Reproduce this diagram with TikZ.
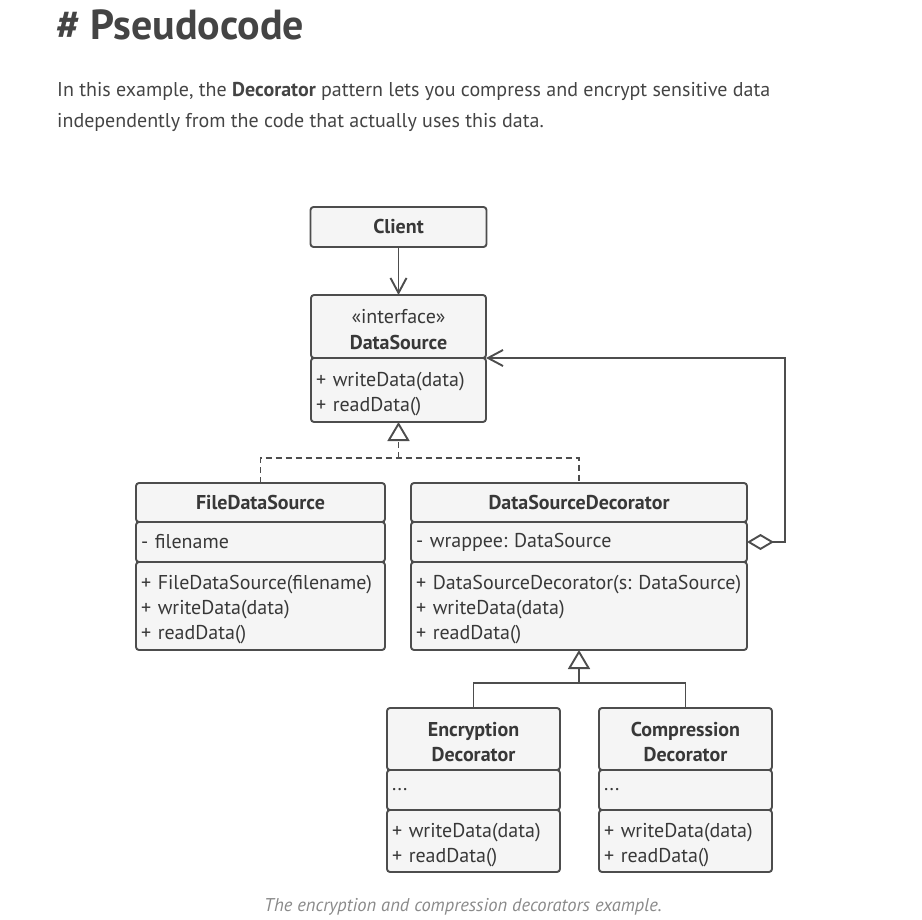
\documentclass[tikz,border=0pt]{standalone}
\usepackage{fontspec}
\setmainfont{PT Sans}
\frenchspacing
\usetikzlibrary{arrows.meta,positioning}
\definecolor{umlline}{HTML}{4D4D4D}
\definecolor{umlfill}{HTML}{F5F5F5}
\definecolor{umltext}{HTML}{383838}
\definecolor{pagetext}{HTML}{444444}
\definecolor{captiontext}{HTML}{8A8A8A}
\begin{document}
\begin{tikzpicture}[x=1pt, y=-1pt,
    part/.style={draw=umlline, fill=umlfill, line width=1.9pt, rounded corners=3pt,
      outer sep=0pt, inner xsep=5pt, inner ysep=2pt, text=umltext,
      font=\fontsize{20}{25}\selectfont},
    classname/.style={part, font=\fontsize{20}{25.5}\selectfont\bfseries, align=center},
    members/.style={part, align=left, text width=#1},
    stacked/.style={text height=#1},
    link/.style={draw=umlline, line width=1.9pt, line join=miter},
    prose/.style={anchor=base west, inner sep=0pt, text=pagetext,
      font=\fontsize{20}{30}\selectfont}]
  \tikzstyle{assoc} = [link, -{Straight Barb[length=15pt,width=16pt]}]
  \tikzstyle{realize} = [link, dash pattern=on 6pt off 4pt]
  \tikzstyle{inherit} = [link, -{Triangle[open,length=19pt,width=22pt]}]
  \tikzstyle{aggregate} = [link, {Diamond[open,length=27pt,width=16pt]}-{Straight Barb[length=15pt,width=16pt]}]
  \useasboundingbox (0,0) rectangle (922,920);

  \node (heading) [prose, font=\fontsize{42}{46}\selectfont\bfseries] at (56,40) {\# Pseudocode};
  \node (introA) [prose] at (57,97) {In this example, the \textbf{Decorator} pattern lets you compress and encrypt sensitive data};
  \node (introB) [prose] at (57,128) {independently from the code that actually uses this data.};

  \node (dsTitle) [classname, stacked=45.5pt, minimum width=175pt, minimum height=63pt] at (398.5,326.5) {\mdseries«interface»\\DataSource};
  \node (dsOps) [members=165pt, stacked=22pt, minimum height=64pt, below=0pt of dsTitle] {+ writeData(data)\\+ readData()};
  \node (client) [classname, minimum width=176pt, minimum height=40pt, above=48pt of dsTitle] {Client};

  \node (fdsTitle) [classname, minimum width=249pt, minimum height=39pt] at (260.5,502.5) {FileDataSource};
  \node (fdsAttr) [members=239pt, minimum height=40pt, below=0pt of fdsTitle] {- filename};
  \node (fdsOps) [members=239pt, stacked=22pt, minimum height=88pt, below=0pt of fdsAttr] {+ FileDataSource(filename)\\+ writeData(data)\\+ readData()};

  \node (dsdTitle) [classname, minimum width=336pt, minimum height=39pt, right=26pt of fdsTitle] {DataSourceDecorator};
  \node (dsdAttr) [members=326pt, minimum height=40pt, below=0pt of dsdTitle] {- wrappee: DataSource};
  \node (dsdOps) [members=326pt, stacked=22pt, minimum height=88pt, below=0pt of dsdAttr] {+ DataSourceDecorator(s: DataSource)\\+ writeData(data)\\+ readData()};

  \node (encTitle) [classname, stacked=45.5pt, minimum width=173pt, minimum height=62pt] at (473.5,739) {Encryption\\Decorator};
  \node (encAttr) [members=163pt, minimum height=40pt, below=0pt of encTitle] {...};
  \node (encOps) [members=163pt, stacked=22pt, minimum height=62pt, below=0pt of encAttr] {+ writeData(data)\\+ readData()};

  \node (compTitle) [classname, stacked=45.5pt, minimum width=173pt, minimum height=62pt, right=39pt of encTitle] {Compression\\Decorator};
  \node (compAttr) [members=163pt, minimum height=40pt, below=0pt of compTitle] {...};
  \node (compOps) [members=163pt, stacked=22pt, minimum height=62pt, below=0pt of compAttr] {+ writeData(data)\\+ readData()};

  \node (caption) [anchor=base, inner sep=0pt, text=captiontext, font=\fontsize{18.5}{20}\selectfont\itshape] at (463,911) {The encryption and compression decorators example.};

  \coordinate [below=36pt of dsOps.south] (implJoin);
  \coordinate [below=33pt of dsdOps.south] (inhJoin);
  \draw[assoc] (client) -- (dsTitle);
  \draw[realize] (fdsTitle.north) |- (implJoin) -| (dsdTitle.north);
  \draw[realize, -{Triangle[open,length=19pt,width=22pt]}] (implJoin) -- (dsOps.south);
  \draw[aggregate] (dsdAttr.east) -- ++(38,0) |- (dsTitle.south east);
  \draw[link] (encTitle.north) |- (inhJoin) -| (compTitle.north);
  \draw[inherit] (inhJoin) -- (dsdOps.south);
\end{tikzpicture}
\end{document}
